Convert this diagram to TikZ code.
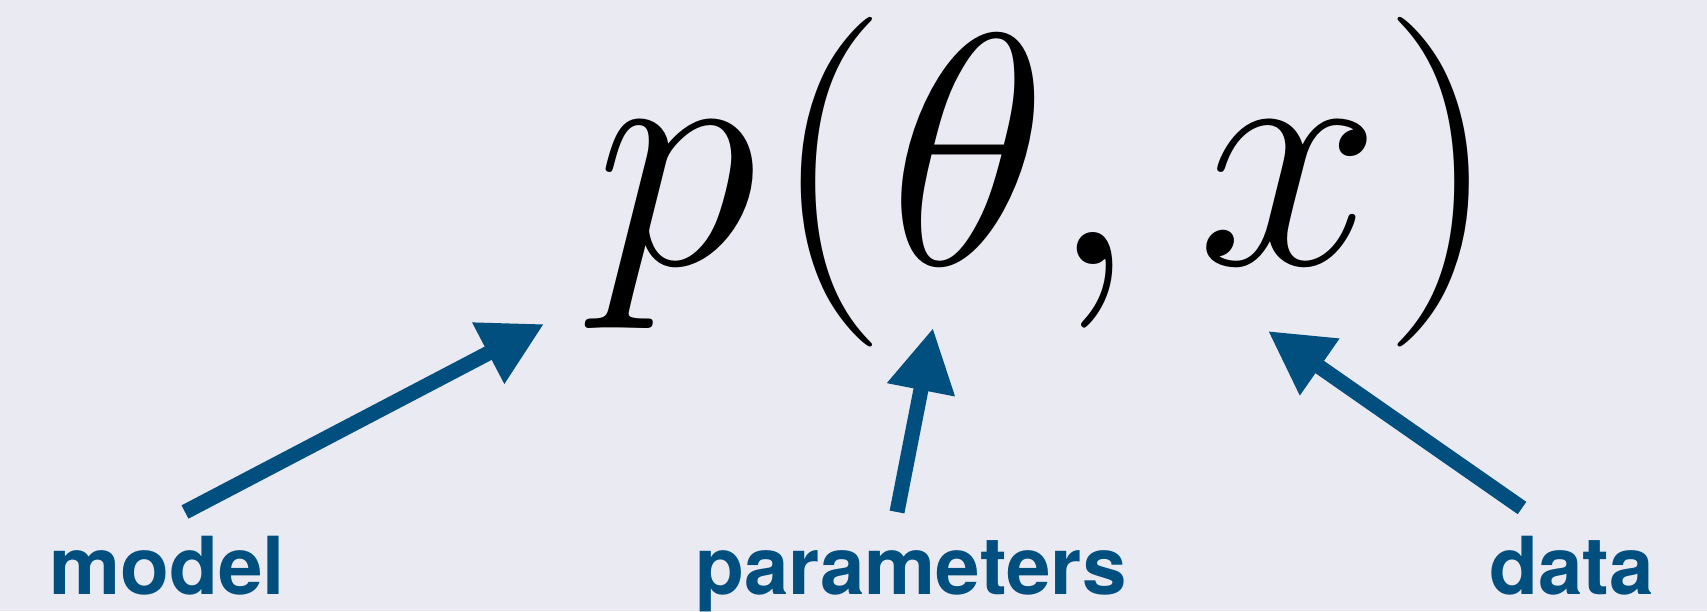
\documentclass[tikz,border=0pt]{standalone}
\usepackage{fix-cm}
\usepackage{fontspec}
\newfontfamily\labfont{TeX Gyre Heros}
\usetikzlibrary{arrows.meta}
\definecolor{bgc}{RGB}{234,234,242}
\definecolor{arc}{RGB}{0,79,127}
\tikzset{
  lab/.style={anchor=base, text=arc, inner sep=0pt, font=\labfont\bfseries\fontsize{80}{80}\selectfont},
  fat/.style={draw=arc, line width=15pt, line cap=butt, -{Triangle[length=63pt,width=65pt]}},
}
\begin{document}
\begin{tikzpicture}[x=1pt,y=1pt]
\fill[bgc] (0,0) rectangle (1707,611);
\useasboundingbox (0,0) rectangle (1707,611);
\node[anchor=base, inner sep=0pt, font=\fontsize{330}{330}\selectfont] (f) at (1047,346) {$p\mkern0.8mu(\theta, \mkern0.3mu x)$};
\node[lab] (model) at (167,17) {model};
\node[lab] (par) at (911,17) {parameters};
\node[lab] (data) at (1572,17) {data};
\coordinate (mt) at (185,99);
\coordinate (mh) at (544,287);
\coordinate (pt) at (897,99);
\coordinate (ph) at (933,283);
\coordinate (dt) at (1522,103);
\coordinate (dh) at (1268,280);
\draw[fat] (mt) -- (mh);
\draw[fat] (pt) -- (ph);
\draw[fat] (dt) -- (dh);
\end{tikzpicture}
\end{document}
